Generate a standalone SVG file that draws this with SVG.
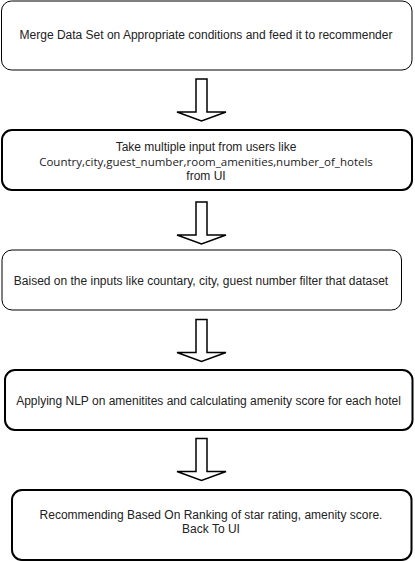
<svg xmlns="http://www.w3.org/2000/svg" width="415" height="562" viewBox="0 0 415 562">
<style>
.box{fill:#fff;stroke:#000}
.thin{stroke-width:1}
.thick{stroke-width:2}
.t{font-family:"Liberation Sans",Arial,sans-serif;font-size:12px;fill:#222;text-anchor:middle}
.t2{font-family:"Open Sans","Noto Sans",sans-serif;font-size:11.5px;fill:#222;text-anchor:middle}
.arr{fill:#fff;stroke:#000;stroke-width:1.5;stroke-linejoin:miter}
</style>
<defs>
<path id="arrow" d="M -5.5 0 H 5.5 V 33 H 24.5 L 0 42 L -24.5 33 H -5.5 Z"/>
</defs>
<rect width="415" height="562" fill="#fff"/>
<g id="connectors">
<use href="#arrow" class="arr" transform="translate(201.5,79)"/>
<use href="#arrow" class="arr" transform="translate(201.5,202)"/>
<use href="#arrow" class="arr" transform="translate(201.5,319.5)"/>
<use href="#arrow" class="arr" transform="translate(201.5,438.5)"/>
</g>
<g id="node1">
<rect class="box thin" x="1.5" y="1" width="410.5" height="69" rx="10"/>
<text class="t" x="206" y="39">Merge Data Set on Appropriate conditions and feed it to recommender</text>
</g>
<g id="node2">
<rect class="box thick" x="2" y="130" width="410" height="60" rx="10"/>
<text class="t" x="206" y="150.5">Take multiple input from users like</text>
<text class="t2" x="206" y="166">Country,city,guest_number,room_amenities,number_of_hotels</text>
<text class="t" x="206" y="180">from UI</text>
</g>
<g id="node3">
<rect class="box thin" x="2" y="250" width="399.5" height="60" rx="10"/>
<text class="t" x="201" y="285">Baised on the inputs like countary, city, guest number filter that dataset</text>
</g>
<g id="node4">
<rect class="box thick" x="5" y="370" width="407.5" height="60" rx="10"/>
<text class="t" x="208.5" y="404.5">Applying NLP on amenitites and calculating amenity score for each hotel</text>
</g>
<g id="node5">
<rect class="box thick" x="12" y="490" width="399.5" height="70" rx="10"/>
<text class="t" x="211" y="518.5">Recommending Based On Ranking of star rating, amenity score.</text>
<text class="t" x="211" y="533">Back To UI</text>
</g>
</svg>
